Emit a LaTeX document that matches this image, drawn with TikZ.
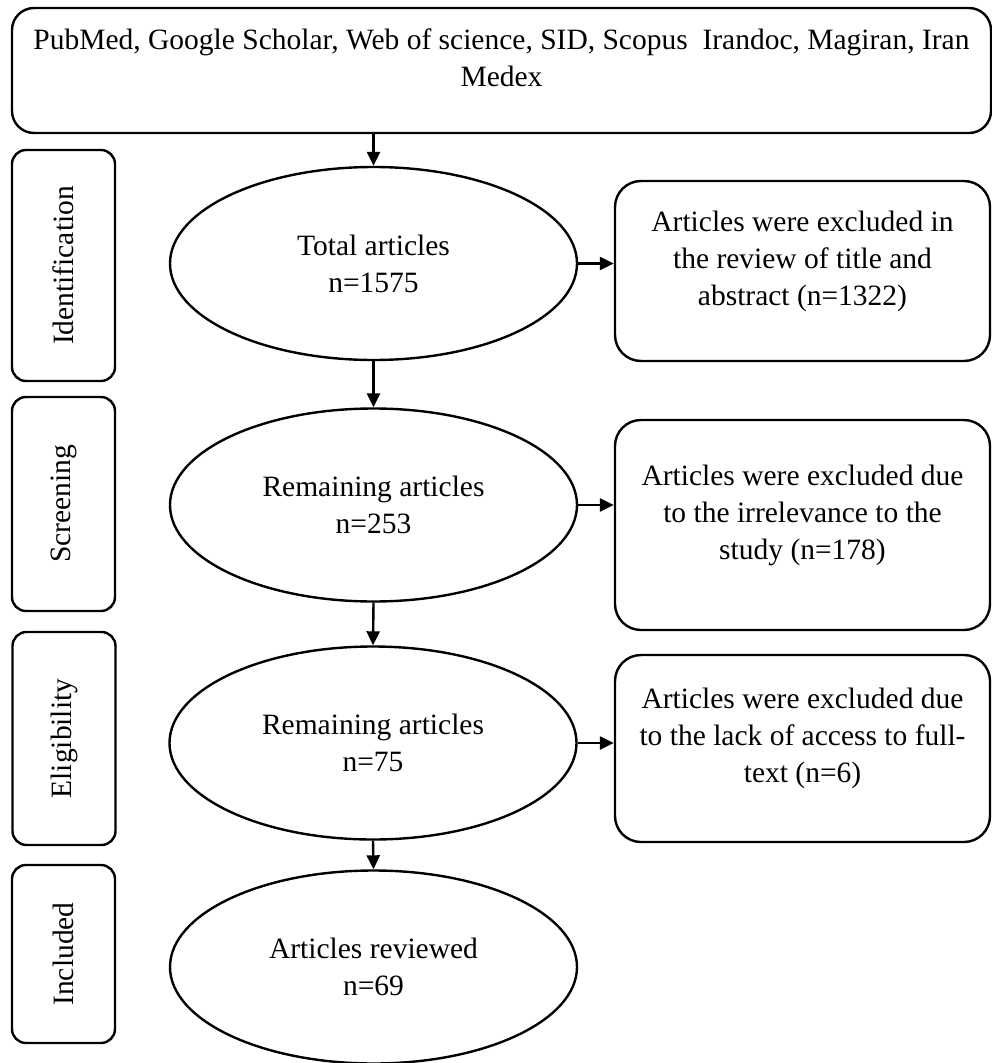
\documentclass[tikz,border=0pt]{standalone}
\usepackage{fontspec}
\setmainfont{Liberation Serif}
\usepackage{tikz}
\usetikzlibrary{arrows.meta, shapes.geometric}

\tikzset{
  every node/.style={font=\fontsize{29.5pt}{37pt}\selectfont},
  flow/.style={draw, line width=2.4pt, inner sep=0pt},
  srcbox/.style={flow, rounded corners=22pt, align=center, text depth=26pt},
  stage/.style={flow, rounded corners=14pt, rotate=90, minimum height=103pt},
  count/.style={flow, ellipse, align=center, minimum width=407pt, minimum height=193pt},
  exclbox/.style={flow, rounded corners=26pt, align=center, minimum width=375pt, text depth=26pt},
  link/.style={line width=2.4pt, -{Triangle[length=14pt, width=13pt]}}
}

\begin{document}
\begin{tikzpicture}[x=1pt, y=-1pt]
  \useasboundingbox (0,0) rectangle (992,1063);

  % databases searched
  \node[srcbox, minimum width=979pt, minimum height=125pt] (src) at (501.5,70.5)
    {PubMed, Google Scholar, Web of science, SID, Scopus\ \ Irandoc, Magiran, Iran\\Medex};

  % stages on the left
  \node[stage, minimum width=231pt] (ident) at (63.5,265.5) {Identification};
  \node[stage, minimum width=214pt] (screen) at (63.5,504) {Screening};
  \node[stage, minimum width=213pt] (elig) at (64,738.5) {Eligibility};
  \node[stage, minimum width=178pt] (incl) at (63.5,954) {Included};

  % article counts
  \node[count] (total) at (373.5,263.5) {Total articles\\n=1575};
  \node[count] (remA) at (373.5,505) {Remaining articles\\n=253};
  \node[count] (remB) at (373,743) {Remaining articles\\n=75};
  \node[count] (reviewed) at (373.5,967) {Articles reviewed\\n=69};

  % exclusions
  \node[exclbox, minimum height=180pt] (exA) at (802.5,271)
    {Articles were excluded in\\the review of title and\\abstract (n=1322)};
  \node[exclbox, minimum height=210pt] (exB) at (802.5,525)
    {Articles were excluded due\\to the irrelevance to the\\study (n=178)};
  \node[exclbox, minimum height=187pt] (exC) at (802.5,748.5)
    {Articles were excluded due\\to the lack of access to full-\\text (n=6)};

  % arrows down
  \draw[link] (src.south -| total.north) -- (total.north);
  \draw[link] (total.south) -- (remA.north);
  \draw[link] (remA.south) -- (remB.north);
  \draw[link] (remB.south) -- (reviewed.north);

  % arrows right
  \draw[link] (total.east) -- (total.east -| exA.west);
  \draw[link] (remA.east) -- (remA.east -| exB.west);
  \draw[link] (remB.east) -- (remB.east -| exC.west);
\end{tikzpicture}
\end{document}
